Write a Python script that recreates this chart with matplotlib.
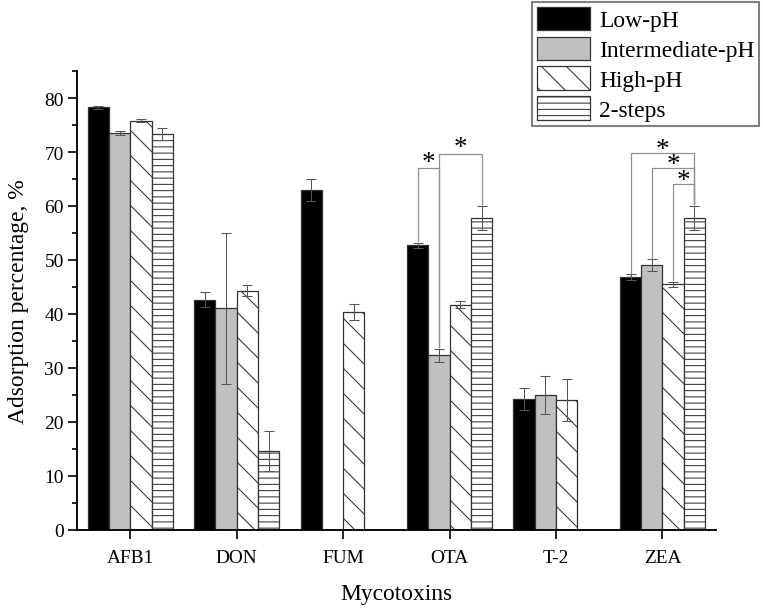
import matplotlib.pyplot as plt
import numpy as np

plt.rcParams['font.family'] = ['Liberation Serif', 'DejaVu Serif']
plt.rcParams['hatch.linewidth'] = 0.5

toxins = ['AFB1', 'DON', 'FUM', 'OTA', 'T-2', 'ZEA']
series = ['Low-pH', 'Intermediate-pH', 'High-pH', '2-steps']

low = [78.3, 42.6, 63.0, 52.7, 24.2, 46.8]
low_err = [0.3, 1.4, 2.0, 0.5, 2.0, 0.5]
inter = [73.5, 41.0, np.nan, 32.3, 25.0, 49.0]
inter_err = [0.4, 14.0, np.nan, 1.2, 3.5, 1.1]
high = [75.8, 44.3, 40.3, 41.7, 24.0, 45.5]
high_err = [0.3, 1.0, 1.5, 0.7, 3.9, 0.5]
two_steps = [73.3, 14.6, np.nan, 57.8, np.nan, 57.8]
two_steps_err = [1.1, 3.7, np.nan, 2.2, np.nan, 2.2]

# significance brackets:
# (category, bar a, bar b, bracket height, leg a bottom, leg b bottom, star x offset, star y)
brackets = [
    (3, 0, 1, 67.1, 53.6, 33.9, -0.2, 68.0),
    (3, 1, 3, 69.7, 33.9, 60.4, 0.1, 70.9),
    (5, 0, 3, 69.8, 47.6, 60.4, 0.0, 70.4),
    (5, 1, 3, 67.0, 50.4, 60.4, 0.1, 67.7),
    (5, 2, 3, 64.0, 46.3, 60.4, 0.2, 64.8),
]

fig = plt.figure(figsize=(763 / 150, 609 / 150), dpi=150)
ax = fig.add_axes([0.101, 0.1286, 0.837, 0.753])

x = np.arange(len(toxins))
width = 0.2
styles = [
    dict(facecolor='black', hatch=None),
    dict(facecolor='#c0c0c0', hatch=None),
    dict(facecolor='white', hatch='\\\\'),
    dict(facecolor='white', hatch='----'),
]
values = [low, inter, high, two_steps]
errors = [low_err, inter_err, high_err, two_steps_err]

for i, (vals, errs, st, name) in enumerate(zip(values, errors, styles, series)):
    pos = x + (i - 1.5) * width
    vals = np.array(vals)
    errs = np.array(errs)
    ok = ~np.isnan(vals)
    ax.bar(pos[ok], vals[ok], width, color=st['facecolor'], hatch=st['hatch'],
           edgecolor='#333333', linewidth=0.6, label=name, zorder=2)
    ax.errorbar(pos[ok], vals[ok], yerr=errs[ok], fmt='none', ecolor='#555555',
                elinewidth=0.5, capsize=2.2, capthick=0.5, zorder=3)

for cat, a, b, h, ya, yb, sx, sy in brackets:
    xa = cat + (a - 1.5) * width
    xb = cat + (b - 1.5) * width
    ax.plot([xa, xa, xb, xb], [ya, h, h, yb], color='#909090', lw=0.6, zorder=4)
    ax.text(cat + sx, sy, '*', ha='center', va='center', fontsize=13, zorder=5)

ax.set_xlim(-0.5, 5.5)
ax.set_ylim(0, 85)
ax.set_xticks(x)
ax.set_xticklabels(toxins)
ax.set_yticks(np.arange(0, 81, 10))
ax.set_yticks(np.arange(5, 86, 10), minor=True)
ax.tick_params(axis='both', which='major', direction='out', length=4.3, width=0.8,
               labelsize=9.3, pad=2)
ax.tick_params(axis='x', which='major', pad=5)
ax.tick_params(axis='y', which='minor', direction='out', length=2.2, width=0.8)
ax.spines['top'].set_visible(False)
ax.spines['right'].set_visible(False)
ax.spines['left'].set_linewidth(0.9)
ax.spines['bottom'].set_linewidth(0.9)

ax.set_xlabel('Mycotoxins', fontsize=11.3, labelpad=8)
ax.set_ylabel('Adsorption percentage, %', fontsize=11.3)
ax.yaxis.set_label_coords(-0.076, 0.5)

fig.legend(loc='upper right', bbox_to_anchor=(0.995, 0.995), fontsize=11.3,
           frameon=True, fancybox=False, edgecolor='#808080', framealpha=1,
           handlelength=2.25, handleheight=1.15, labelspacing=0.22,
           handletextpad=0.4, borderpad=0.2, borderaxespad=0)

fig.savefig('out.png', dpi=150)
